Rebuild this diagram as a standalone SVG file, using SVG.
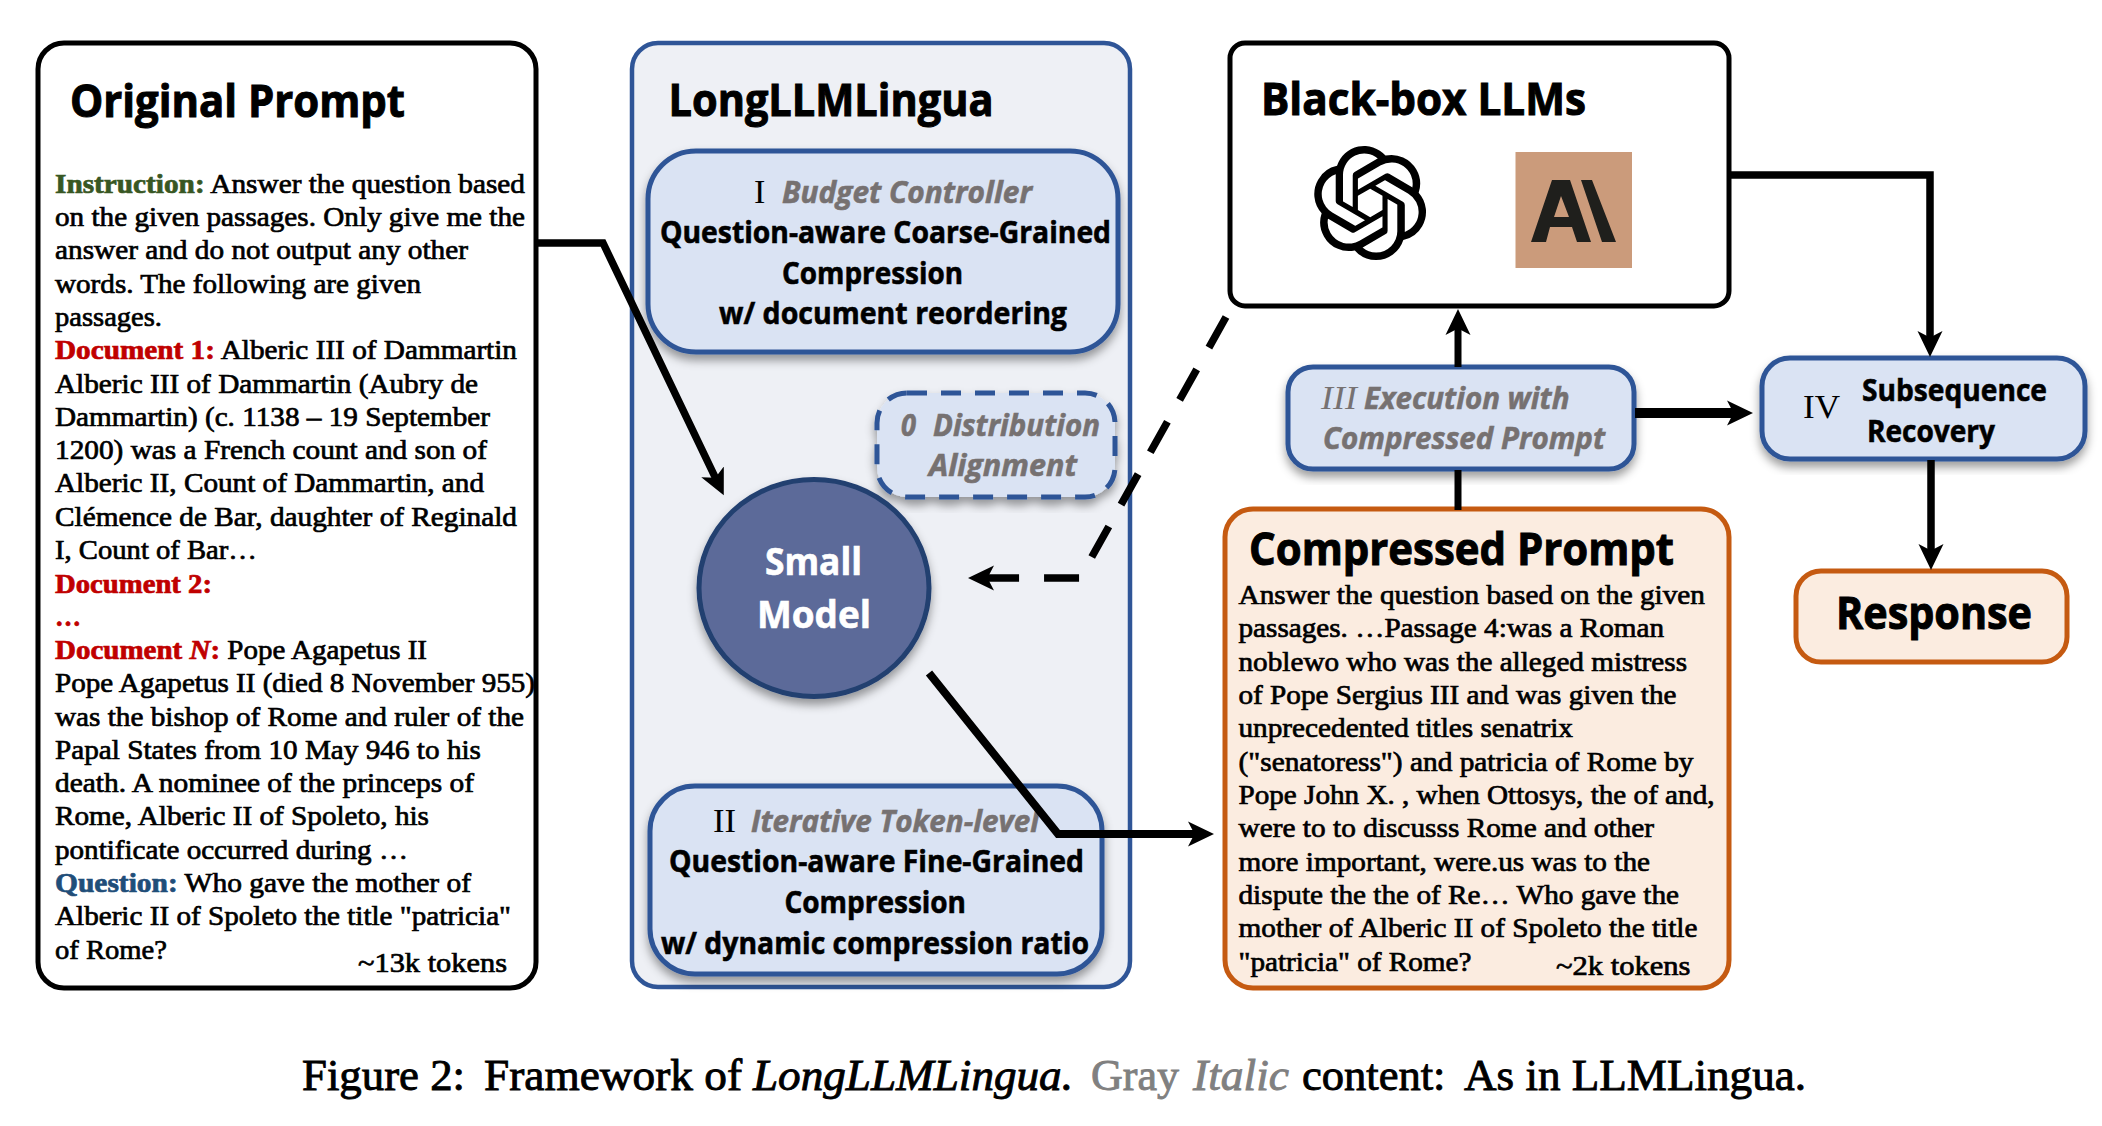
<svg xmlns="http://www.w3.org/2000/svg" width="2102" height="1126" viewBox="0 0 2102 1126">
<style>
text{white-space:pre}
.s{font-family:"Liberation Serif","Times New Roman",serif;font-size:27.5px;fill:#000;stroke:#000;stroke-width:.7}
.h{font-family:"Open Sans","Noto Sans",sans-serif;font-weight:700;font-size:45px;fill:#000;stroke:#000;stroke-width:1}
.b{font-family:"Open Sans","Noto Sans",sans-serif;font-weight:700;font-size:31px;fill:#000;stroke:#000;stroke-width:.6}
.g{font-family:"Open Sans","Noto Sans",sans-serif;font-weight:700;font-style:italic;font-size:31px;fill:#767171;stroke:#767171;stroke-width:.6}
.r{font-family:"Liberation Serif","Times New Roman",serif;font-size:34px;fill:#000}
.cap{font-family:"Liberation Serif","Times New Roman",serif;font-size:44px;fill:#000;stroke:#000;stroke-width:.9}
.grn{fill:#385723;stroke:#385723;font-weight:700}
.red{fill:#c00000;stroke:#c00000;font-weight:700}
.blu{fill:#1f4e79;stroke:#1f4e79;font-weight:700}
.blue-box{fill:#dae3f3;stroke:#2f5597;stroke-width:5}
.org-box{fill:#fbece0;stroke:#c55a11;stroke-width:5}
.line{fill:none;stroke:#000;stroke-linejoin:miter}
</style>
<defs>
<filter id="sh" x="-10%" y="-10%" width="120%" height="125%"><feDropShadow dx="0" dy="6" stdDeviation="5" flood-color="#000" flood-opacity=".38"/></filter>
<marker id="ah" markerUnits="userSpaceOnUse" markerWidth="30" markerHeight="28" refX="8" refY="14" orient="auto" viewBox="0 0 30 28"><path d="M26 14L0 1.500L6.500 14L0 26.500Z" fill="#000"/></marker>
</defs>

<g id="node-original-prompt">
<rect x="38" y="43" width="498" height="945" rx="26" fill="#fff" stroke="#000" stroke-width="5"/>
<text class="h" x="70" y="117" textLength="335" lengthAdjust="spacingAndGlyphs">Original Prompt</text>
<text class="s" x="55" y="192.500" textLength="470" lengthAdjust="spacingAndGlyphs"><tspan class="grn">Instruction:</tspan> Answer the question based</text>
<text class="s" x="55" y="226" textLength="470" lengthAdjust="spacingAndGlyphs">on the given passages. Only give me the</text>
<text class="s" x="55" y="259" textLength="413" lengthAdjust="spacingAndGlyphs">answer and do not output any other</text>
<text class="s" x="55" y="292.500" textLength="366" lengthAdjust="spacingAndGlyphs">words. The following are given</text>
<text class="s" x="55" y="326" textLength="107" lengthAdjust="spacingAndGlyphs">passages.</text>
<text class="s" x="55" y="359" textLength="462" lengthAdjust="spacingAndGlyphs"><tspan class="red">Document 1:</tspan> Alberic III of Dammartin</text>
<text class="s" x="55" y="392.500" textLength="423" lengthAdjust="spacingAndGlyphs">Alberic III of Dammartin (Aubry de</text>
<text class="s" x="55" y="426" textLength="435" lengthAdjust="spacingAndGlyphs">Dammartin) (c. 1138 – 19 September</text>
<text class="s" x="55" y="459" textLength="432" lengthAdjust="spacingAndGlyphs">1200) was a French count and son of</text>
<text class="s" x="55" y="492" textLength="429" lengthAdjust="spacingAndGlyphs">Alberic II, Count of Dammartin, and</text>
<text class="s" x="55" y="525.500" textLength="462" lengthAdjust="spacingAndGlyphs">Clémence de Bar, daughter of Reginald</text>
<text class="s" x="55" y="558.500" textLength="202" lengthAdjust="spacingAndGlyphs">I, Count of Bar…</text>
<text class="s red" x="55" y="592.500" textLength="157" lengthAdjust="spacingAndGlyphs">Document 2:</text>
<text class="s red" x="55" y="625.500" textLength="26" lengthAdjust="spacingAndGlyphs">…</text>
<text class="s" x="55" y="659" textLength="372" lengthAdjust="spacingAndGlyphs"><tspan class="red">Document <tspan font-style="italic">N</tspan>:</tspan> Pope Agapetus II</text>
<text class="s" x="55" y="692" textLength="480" lengthAdjust="spacingAndGlyphs">Pope Agapetus II (died 8 November 955)</text>
<text class="s" x="55" y="725.500" textLength="469" lengthAdjust="spacingAndGlyphs">was the bishop of Rome and ruler of the</text>
<text class="s" x="55" y="758.500" textLength="426" lengthAdjust="spacingAndGlyphs">Papal States from 10 May 946 to his</text>
<text class="s" x="55" y="792" textLength="419" lengthAdjust="spacingAndGlyphs">death. A nominee of the princeps of</text>
<text class="s" x="55" y="825" textLength="374" lengthAdjust="spacingAndGlyphs">Rome, Alberic II of Spoleto, his</text>
<text class="s" x="55" y="858.500" textLength="353" lengthAdjust="spacingAndGlyphs">pontificate occurred during …</text>
<text class="s" x="55" y="892" textLength="416" lengthAdjust="spacingAndGlyphs"><tspan class="blu">Question:</tspan> Who gave the mother of</text>
<text class="s" x="55" y="925" textLength="456" lengthAdjust="spacingAndGlyphs">Alberic II of Spoleto the title "patricia"</text>
<text class="s" x="55" y="958.500" textLength="112" lengthAdjust="spacingAndGlyphs">of Rome?</text>
<text class="s" x="358" y="972" textLength="149" lengthAdjust="spacingAndGlyphs">~13k tokens</text>
</g>

<g id="node-longllmlingua">
<rect x="632" y="43" width="498" height="944" rx="26" fill="#eef0f5" stroke="#2f5597" stroke-width="4.500"/>
<text class="h" x="668.500" y="116" textLength="325" lengthAdjust="spacingAndGlyphs">LongLLMLingua</text>
</g>

<g id="node-budget-controller">
<rect class="blue-box" x="648" y="151" width="470" height="201" rx="48" filter="url(#sh)"/>
<text class="r" x="754" y="203">I</text>
<text class="g" x="782" y="203" textLength="250" lengthAdjust="spacingAndGlyphs">Budget Controller</text>
<text class="b" x="660" y="243" textLength="451" lengthAdjust="spacingAndGlyphs">Question-aware Coarse-Grained</text>
<text class="b" x="782" y="284" textLength="181" lengthAdjust="spacingAndGlyphs">Compression</text>
<text class="b" x="719" y="324" textLength="348" lengthAdjust="spacingAndGlyphs">w/ document reordering</text>
</g>

<g id="node-distribution-alignment">
<rect x="877" y="393" width="238" height="104" rx="30" fill="#dae3f3" stroke="#2f5597" stroke-width="5" stroke-dasharray="20 14" filter="url(#sh)"/>
<text class="g" x="901" y="436" textLength="15" lengthAdjust="spacingAndGlyphs">0</text>
<text class="g" x="933" y="436" textLength="167" lengthAdjust="spacingAndGlyphs">Distribution</text>
<text class="g" x="929" y="476" textLength="148" lengthAdjust="spacingAndGlyphs">Alignment</text>
</g>

<g id="node-small-model">
<ellipse cx="814" cy="588" rx="115" ry="108.500" fill="#5b6b99" stroke="#223f70" stroke-width="5" filter="url(#sh)"/>
<text class="b" x="765" y="575" textLength="97" lengthAdjust="spacingAndGlyphs" style="fill:#fff;stroke:#fff;font-size:38px">Small</text>
<text class="b" x="757" y="628" textLength="114" lengthAdjust="spacingAndGlyphs" style="fill:#fff;stroke:#fff;font-size:38px">Model</text>
</g>

<g id="node-iterative-token-level">
<rect class="blue-box" x="650" y="786" width="452" height="188" rx="45" filter="url(#sh)"/>
<text class="r" x="713" y="832" textLength="23" lengthAdjust="spacingAndGlyphs">II</text>
<text class="g" x="751" y="832" textLength="288" lengthAdjust="spacingAndGlyphs">Iterative Token-level</text>
<text class="b" x="669" y="872" textLength="415" lengthAdjust="spacingAndGlyphs">Question-aware Fine-Grained</text>
<text class="b" x="784.500" y="913" textLength="181.500" lengthAdjust="spacingAndGlyphs">Compression</text>
<text class="b" x="661" y="954" textLength="428" lengthAdjust="spacingAndGlyphs">w/ dynamic compression ratio</text>
</g>

<g id="node-black-box-llms">
<rect x="1230" y="43" width="499" height="263" rx="15" fill="#fff" stroke="#000" stroke-width="5"/>
<text class="h" x="1261" y="115" textLength="325" lengthAdjust="spacingAndGlyphs">Black-box LLMs</text>
<path transform="translate(1313.500 146) scale(4.720 4.750)" fill="#000" d="M22.2819 9.8211a5.9847 5.9847 0 0 0-.5157-4.9108 6.0462 6.0462 0 0 0-6.5098-2.9A6.0651 6.0651 0 0 0 4.9807 4.1818a5.9847 5.9847 0 0 0-3.9977 2.9 6.0462 6.0462 0 0 0 .7427 7.0966 5.98 5.98 0 0 0 .511 4.9107 6.051 6.051 0 0 0 6.5146 2.9001A5.9847 5.9847 0 0 0 13.2599 24a6.0557 6.0557 0 0 0 5.7718-4.2058 5.9894 5.9894 0 0 0 3.9977-2.9001 6.0557 6.0557 0 0 0-.7475-7.0729zm-9.022 12.6081a4.4755 4.4755 0 0 1-2.8764-1.0408l.1419-.0804 4.7783-2.7582a.7948.7948 0 0 0 .3927-.6813v-6.7369l2.02 1.1686a.071.071 0 0 1 .038.052v5.5826a4.504 4.504 0 0 1-4.4945 4.4944zm-9.6607-4.1254a4.4708 4.4708 0 0 1-.5346-3.0137l.142.0852 4.783 2.7582a.7712.7712 0 0 0 .7806 0l5.8428-3.3685v2.3324a.0804.0804 0 0 1-.0332.0615L9.74 19.9502a4.4992 4.4992 0 0 1-6.1408-1.6464zM2.3408 7.8956a4.485 4.485 0 0 1 2.3655-1.9728V11.6a.7664.7664 0 0 0 .3879.6765l5.8144 3.3543-2.0201 1.1685a.0757.0757 0 0 1-.071 0l-4.8303-2.7865A4.504 4.504 0 0 1 2.3408 7.872zm16.5963 3.8558L13.1038 8.364 15.1192 7.2a.0757.0757 0 0 1 .071 0l4.8303 2.7913a4.4944 4.4944 0 0 1-.6765 8.1042v-5.6772a.79.79 0 0 0-.407-.667zm2.0107-3.0231l-.142-.0852-4.7735-2.7818a.7759.7759 0 0 0-.7854 0L9.409 9.2297V6.8974a.0662.0662 0 0 1 .0284-.0615l4.8303-2.7866a4.4992 4.4992 0 0 1 6.6802 4.66zM8.3065 12.863l-2.02-1.1638a.0804.0804 0 0 1-.038-.0567V6.0742a4.4992 4.4992 0 0 1 7.3757-3.4537l-.142.0805L8.704 5.459a.7948.7948 0 0 0-.3927.6813zm1.0976-2.3654l2.602-1.4998 2.6069 1.4998v2.9994l-2.5974 1.4997-2.6067-1.4997Z"/>
<rect x="1515.500" y="152" width="116.500" height="116" fill="#cb9b7b"/>
<path fill="#1f1f1c" fill-rule="evenodd" d="M1552 180H1570L1591 242H1577L1572 227H1550L1546 242H1531ZM1561 196L1554 217H1569ZM1581 180H1592L1616 242H1602Z"/>
</g>

<g id="node-execution">
<rect class="blue-box" x="1288" y="367" width="346" height="102" rx="25" filter="url(#sh)"/>
<text class="r" x="1321" y="409" textLength="36" lengthAdjust="spacingAndGlyphs" font-style="italic" style="fill:#767171">III</text>
<text class="g" x="1364" y="409" textLength="205.500" lengthAdjust="spacingAndGlyphs">Execution with</text>
<text class="g" x="1323" y="449" textLength="282" lengthAdjust="spacingAndGlyphs">Compressed Prompt</text>
</g>

<g id="node-subsequence-recovery">
<rect class="blue-box" x="1762" y="358" width="323" height="101" rx="28" filter="url(#sh)"/>
<text class="r" x="1803" y="418" textLength="37" lengthAdjust="spacingAndGlyphs">IV</text>
<text class="b" x="1862" y="401" textLength="185" lengthAdjust="spacingAndGlyphs">Subsequence</text>
<text class="b" x="1867" y="442" textLength="128" lengthAdjust="spacingAndGlyphs">Recovery</text>
</g>

<g id="node-compressed-prompt">
<rect class="org-box" x="1225" y="509" width="504" height="479" rx="28"/>
<text class="h" x="1249" y="565" textLength="425" lengthAdjust="spacingAndGlyphs">Compressed Prompt</text>
<text class="s" x="1238.500" y="604" textLength="466.500" lengthAdjust="spacingAndGlyphs">Answer the question based on the given</text>
<text class="s" x="1238.500" y="637" textLength="425.500" lengthAdjust="spacingAndGlyphs">passages. …Passage 4:was a Roman</text>
<text class="s" x="1238.500" y="671" textLength="448.500" lengthAdjust="spacingAndGlyphs">noblewo who was the alleged mistress</text>
<text class="s" x="1238.500" y="704" textLength="438" lengthAdjust="spacingAndGlyphs">of Pope Sergius III and was given the</text>
<text class="s" x="1238.500" y="737" textLength="334.500" lengthAdjust="spacingAndGlyphs">unprecedented titles senatrix</text>
<text class="s" x="1238.500" y="771" textLength="455" lengthAdjust="spacingAndGlyphs">("senatoress") and patricia of Rome by</text>
<text class="s" x="1238.500" y="804" textLength="476" lengthAdjust="spacingAndGlyphs">Pope John X. , when Ottosys, the of and,</text>
<text class="s" x="1238.500" y="837" textLength="415.500" lengthAdjust="spacingAndGlyphs">were to to discusss Rome and other</text>
<text class="s" x="1238.500" y="871" textLength="411.500" lengthAdjust="spacingAndGlyphs">more important, were.us was to the</text>
<text class="s" x="1238.500" y="904" textLength="440.500" lengthAdjust="spacingAndGlyphs">dispute the the of Re… Who gave the</text>
<text class="s" x="1238.500" y="937" textLength="459" lengthAdjust="spacingAndGlyphs">mother of Alberic II of Spoleto the title</text>
<text class="s" x="1238.500" y="971" textLength="233" lengthAdjust="spacingAndGlyphs">"patricia" of Rome?</text>
<text class="s" x="1556" y="975" textLength="134.500" lengthAdjust="spacingAndGlyphs">~2k tokens</text>
</g>

<g id="node-response">
<rect class="org-box" x="1796" y="571" width="271" height="91" rx="25"/>
<text class="h" x="1836" y="629" textLength="196" lengthAdjust="spacingAndGlyphs">Response</text>
</g>

<g id="connectors">
<path class="line" stroke-width="7.500" d="M537 243H603L716 479" marker-end="url(#ah)"/>
<path class="line" stroke-width="7.500" stroke-dasharray="35 25" d="M1226 317L1080 578H986" marker-end="url(#ah)"/>
<path class="line" stroke-width="8" d="M929 673L1058 834H1196" marker-end="url(#ah)"/>
<path class="line" stroke-width="7.500" d="M1729 175H1930V339" marker-end="url(#ah)"/>
<path class="line" stroke-width="7" d="M1458 510V470"/>
<path class="line" stroke-width="7" d="M1458 367V327" marker-end="url(#ah)"/>
<path class="line" stroke-width="10" d="M1635 413H1735" marker-end="url(#ah)"/>
<path class="line" stroke-width="7.500" d="M1931 460V552" marker-end="url(#ah)"/>
</g>

<g id="caption">
<text class="cap" x="302" y="1090" textLength="163" lengthAdjust="spacingAndGlyphs">Figure 2:</text>
<text class="cap" x="484" y="1090" textLength="258" lengthAdjust="spacingAndGlyphs">Framework of</text>
<text class="cap" x="753" y="1090" textLength="320" lengthAdjust="spacingAndGlyphs" font-style="italic">LongLLMLingua.</text>
<text class="cap" x="1091" y="1090" textLength="88" lengthAdjust="spacingAndGlyphs" style="fill:#808080;stroke:#808080">Gray</text>
<text class="cap" x="1193" y="1090" textLength="96" lengthAdjust="spacingAndGlyphs" font-style="italic" style="fill:#808080;stroke:#808080">Italic</text>
<text class="cap" x="1302" y="1090" textLength="143.500" lengthAdjust="spacingAndGlyphs">content:</text>
<text class="cap" x="1464" y="1090" textLength="342" lengthAdjust="spacingAndGlyphs">As in LLMLingua.</text>
</g>
</svg>
